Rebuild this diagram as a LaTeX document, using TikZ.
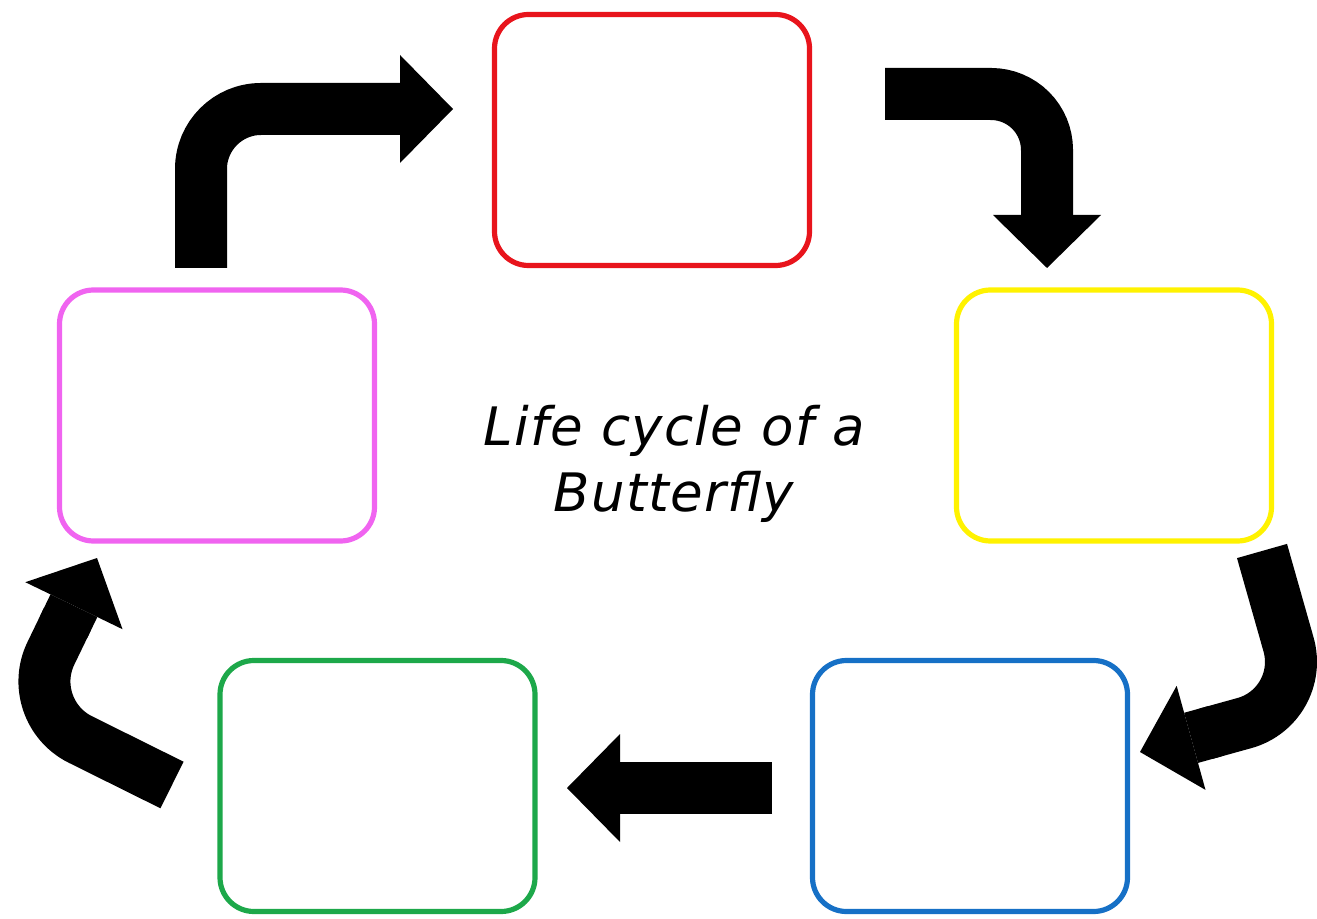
\documentclass[tikz,border=0pt]{standalone}
\usepackage{fontspec}
\newfontfamily\titlefont[LetterSpace=2.5]{DejaVu Sans}
\usetikzlibrary{arrows.meta,calc}
\definecolor{cred}{HTML}{E8141C}
\definecolor{cyellow}{HTML}{FFF200}
\definecolor{cblue}{HTML}{1670C6}
\definecolor{cgreen}{HTML}{1DA84A}
\definecolor{cmag}{HTML}{F064F0}
\tikzset{
  stagebox/.style={draw=#1, line width=2.6pt, rounded corners=17pt, fill=white,
    minimum width=157.5pt, minimum height=125.5pt, inner sep=0pt},
  shaft/.style={line width=26pt, draw=black},
  bigarrow/.style={shaft, -{Triangle[length=26.5pt,width=54pt,line width=0pt]}},
}
\begin{document}
\begin{tikzpicture}[x=0.5pt,y=-0.5pt]
\useasboundingbox (0,0) rectangle (1317,919);
% stage boxes
\node[stagebox=cred]    (red) at (652,140)   {};
\node[stagebox=cyellow] (yel) at (1114,415.5) {};
\node[stagebox=cblue]   (blu) at (970,786)   {};
\node[stagebox=cgreen]  (gre) at (377.5,786) {};
\node[stagebox=cmag]    (mag) at (217,415.5) {};
% title
\node[font=\titlefont\itshape\fontsize{26.5}{33}\selectfont, align=center] (title) at (674,464)
  {Life cycle of a\\Butterfly};
% connector ends
\coordinate (a1s) at (201,268);  \coordinate (a1e) at (453,109);
\coordinate (a2s) at (885,94);   \coordinate (a2e) at (1047,268);
\coordinate (a3s) at (1262,551); \coordinate (a3c) at (1306,706); \coordinate (a3e) at (1140,752);
\coordinate (a4s) at (772,788);  \coordinate (a4e) at (567,788);
\coordinate (a5s) at (172,785);  \coordinate (a5c) at (23,711);   \coordinate (a5e) at (97,558);
% arrows
\draw[bigarrow, rounded corners=30pt] (a1s) |- (a1e);
\draw[bigarrow, rounded corners=28pt] (a2s) -| (a2e);
\draw[shaft, rounded corners=32pt] (a3s) -- (a3c) -- ($(a3c)!0.6!(a3e)$);
\draw[bigarrow] ($(a3c)!0.55!(a3e)$) -- (a3e);
\draw[bigarrow] (a4s) -- (a4e);
\draw[shaft, rounded corners=32pt] (a5s) -- (a5c) -- ($(a5c)!0.6!(a5e)$);
\draw[bigarrow] ($(a5c)!0.55!(a5e)$) -- (a5e);
\end{tikzpicture}
\end{document}
